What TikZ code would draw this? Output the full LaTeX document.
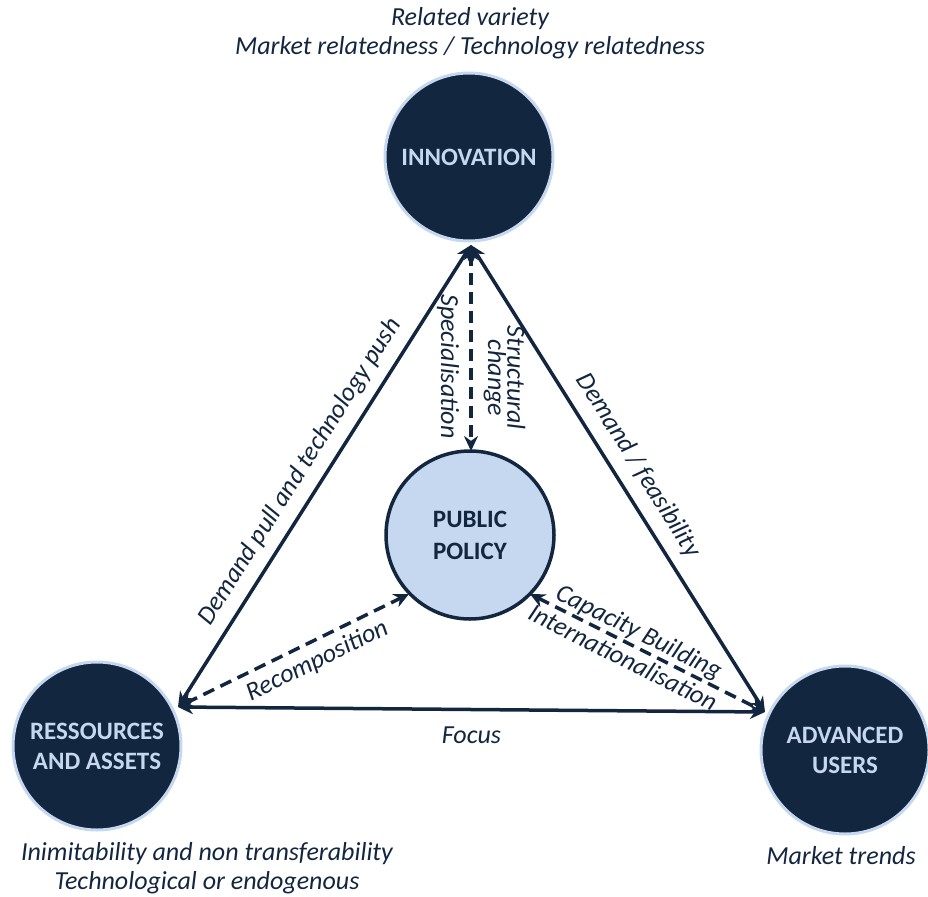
\documentclass[tikz,border=0pt]{standalone}
\usepackage{fontspec}
\setmainfont{Carlito}
\usetikzlibrary{arrows.meta}
\definecolor{navy}{HTML}{13263F}
\definecolor{pale}{HTML}{C5D8EF}
\tikzset{
  dark/.style={circle, fill=navy, draw=pale, line width=3pt, minimum size=168pt, inner sep=0pt,
    text=pale, font=\fontsize{25}{30}\selectfont\bfseries, align=center},
  pub/.style={circle, fill=pale, draw=navy, line width=3.5pt, minimum size=168pt, inner sep=0pt,
    text=navy, font=\fontsize{25}{32}\selectfont\bfseries, align=center},
  lbl/.style={text=navy, font=\fontsize{26}{29}\selectfont\itshape, align=center, inner sep=1pt},
  tightlbl/.style={lbl, font=\fontsize{26}{18}\selectfont\itshape},
  solidarrow/.style={draw=navy, line width=3.5pt, {Stealth[length=15pt,width=14pt]}-{Stealth[length=15pt,width=14pt]}},
  dasharrow/.style={solidarrow, dash pattern=on 12pt off 7pt}
}
\begin{document}
\begin{tikzpicture}[x=1pt,y=-1pt]
\useasboundingbox (0,0) rectangle (928,896);
\node[dark] (inn) at (469,157) {INNOVATION};
\node[pub] (pub) at (470,535) {PUBLIC\\POLICY};
\node[dark] (res) at (97,746) {RESSOURCES\\AND ASSETS};
\node[dark] (adv) at (845,750) {ADVANCED\\USERS};
\coordinate (it) at (471,245);
\coordinate (rt) at (178,707);
\coordinate (at) at (765,712);
\coordinate (pt) at (471,451);
\coordinate (pl) at (409,594);
\coordinate (pr) at (530,594);
\draw[solidarrow] (rt) -- node[lbl, sloped, above=9pt, pos=0.483] {Demand pull and technology push} (it);
\draw[solidarrow] (it) -- node[lbl, sloped, above=10pt, pos=0.50] {Demand / feasibility} (at);
\draw[solidarrow] (rt) -- node[lbl, below=15pt, pos=0.5] {Focus} (at);
\draw[dasharrow] (it) -- node[lbl, sloped, below=9pt, pos=0.59] {Specialisation} node[tightlbl, sloped, above=10pt, pos=0.645] {Structural\\change} (pt);
\draw[dasharrow] (rt) -- node[lbl, sloped, below=6pt, pos=0.565] {Recomposition} (pl);
\draw[dasharrow] (pr) -- node[lbl, sloped, above, pos=0.435] {Capacity Building} node[lbl, sloped, below=3pt, pos=0.425] {Internationalisation} (at);
\node[lbl] (top) at (470,33) {Related variety\\Market relatedness / Technology relatedness};
\node[lbl] (bl) at (207,868) {Inimitability and non transferability\\Technological or endogenous};
\node[lbl] (br) at (841,856) {Market trends};
\end{tikzpicture}
\end{document}
